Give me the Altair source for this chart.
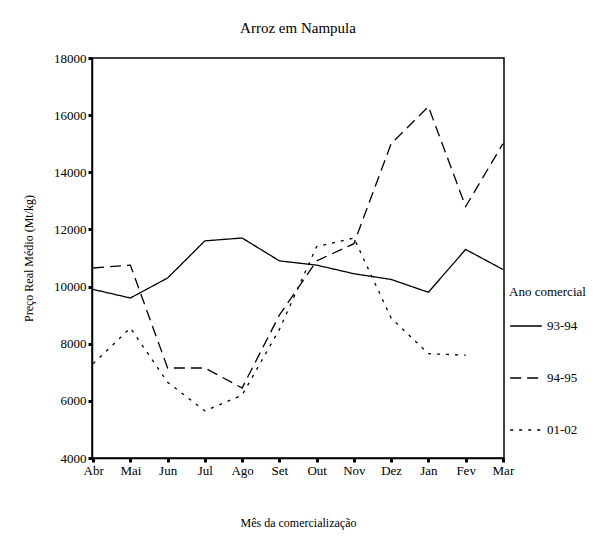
import altair as alt
import pandas as pd

months = ["Abr", "Mai", "Jun", "Jul", "Ago", "Set", "Out", "Nov", "Dez", "Jan", "Fev", "Mar"]
s_9394 = [9900, 9600, 10300, 11600, 11700, 10900, 10750, 10450, 10250, 9800, 11300, 10600]
s_9495 = [10650, 10750, 7150, 7150, 6450, 9000, 10900, 11500, 15000, 16300, 12800, 15000]
s_0102 = [7300, 8550, 6650, 5650, 6200, 8500, 11400, 11700, 8900, 7650, 7600, None]
series = ["93-94", "94-95", "01-02"]

rows = []
for name, vals in zip(series, [s_9394, s_9495, s_0102]):
    for m, v in zip(months, vals):
        if v is not None:
            rows.append({"mes": m, "preco": v, "ano": name})
df = pd.DataFrame(rows)

FONT = "Liberation Serif"

chart = alt.Chart(df).mark_line(color="black", strokeWidth=1.3).encode(
    x=alt.X("mes:N", sort=months,
            scale=alt.Scale(type="point", padding=0.03),
            axis=alt.Axis(title="Mês da comercialização", labelAngle=0,
                          titlePadding=40, tickSize=4, tickWidth=3,
                          domainWidth=1.5)),
    y=alt.Y("preco:Q", scale=alt.Scale(domain=[4000, 18000], nice=False),
            axis=alt.Axis(title="Preço Real Médio (Mt/kg)", values=list(range(4000, 18001, 2000)),
                          format="d", grid=False, tickSize=4, tickWidth=3,
                          titlePadding=18, domainWidth=1.5)),
    strokeDash=alt.StrokeDash("ano:N", sort=series,
                              scale=alt.Scale(domain=series, range=[[1, 0], [11, 6], [3, 6]]),
                              legend=alt.Legend(title="Ano comercial", symbolType="stroke",
                                                symbolSize=1000, symbolStrokeColor="black",
                                                symbolStrokeWidth=1.5, rowPadding=28,
                                                labelFontSize=13, titleFontSize=13,
                                                titleFontWeight="normal", titlePadding=10,
                                                padding=0, orient="none",
                                                legendX=417, legendY=228)),
    order=alt.value(0),
).properties(
    width=412, height=400,
    title=alt.Title("Arroz em Nampula", fontSize=15, fontWeight="normal", font=FONT, offset=16),
    padding={"left": 14, "top": 13, "right": 5, "bottom": 5},
).configure_view(
    stroke="black", strokeWidth=1.5
).configure_axis(
    labelFont=FONT, titleFont=FONT, labelFontSize=13, titleFontSize=12,
    titleFontWeight="normal", labelColor="black", titleColor="black",
    domainColor="black", tickColor="black"
).configure_legend(
    labelFont=FONT, titleFont=FONT, labelColor="black", titleColor="black"
)

chart.save("out.html", embed_options={"renderer": "svg", "actions": False})
